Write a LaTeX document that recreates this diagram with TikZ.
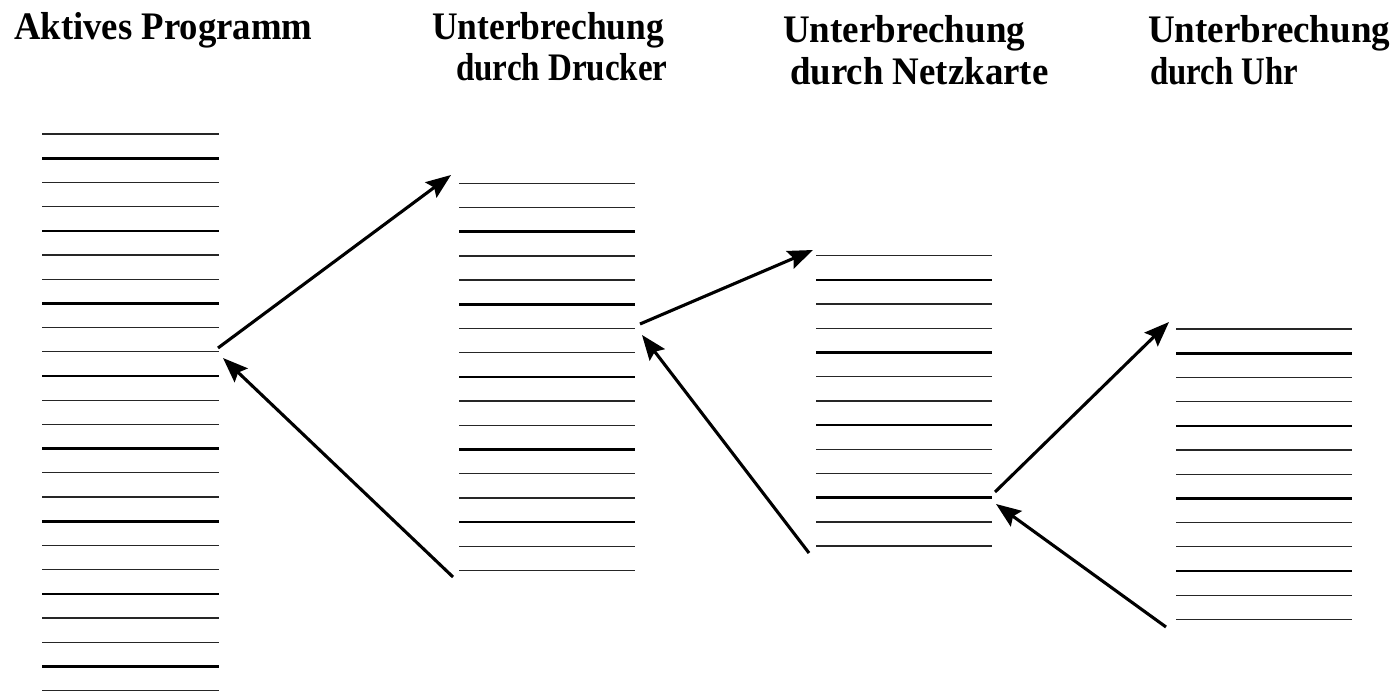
\documentclass[tikz,border=0pt]{standalone}
\usepackage{fontspec}
\usepackage{graphicx}
\setmainfont{Liberation Serif}
\usetikzlibrary{arrows.meta}

\tikzset{
  thinrule/.style={line width=1.3pt, black!85},
  thickrule/.style={line width=2.6pt, black},
  jump/.style={line width=3.1pt, -{Stealth[length=25pt,width=19pt,inset=4pt]}},
  heading/.style={anchor=base west, inner sep=0pt, font=\fontsize{39}{42}\selectfont\bfseries},
}

% heading text squeezed to a given horizontal factor
\newcommand{\squeezed}[2]{\scalebox{#1}[1]{#2}}

% one stack of program lines: left x, right x, first y, count, phase of the thick lines
\newcommand{\codestack}[5]{%
  \foreach \i in {1,...,#4}{%
    \pgfmathtruncatemacro{\r}{mod(\i,3)}%
    \pgfmathsetmacro{\yy}{#3+(\i-1)*24.2}%
    \ifnum\r=#5\relax
      \draw[thickrule] (#1,\yy) -- (#2,\yy);
    \else
      \draw[thinrule] (#1,\yy) -- (#2,\yy);
    \fi
  }%
}

\begin{document}
\begin{tikzpicture}[x=1pt, y=-1pt]
\useasboundingbox (0,0) rectangle (1396,693);

% headings
\node[heading] (hA) at (14,40) {\squeezed{0.942}{Aktives Programm}};
\node[heading] (hB1) at (432,40) {\squeezed{0.909}{Unterbrechung}};
\node[heading] (hB2) at (456,80) {\squeezed{0.847}{durch Drucker}};
\node[heading] (hC1) at (783,43) {\squeezed{0.949}{Unterbrechung}};
\node[heading] (hC2) at (790,84) {\squeezed{0.945}{durch Netzkarte}};
\node[heading] (hD1) at (1148,43) {\squeezed{0.949}{Unterbrechung}};
\node[heading] (hD2) at (1150,84) {\squeezed{0.84}{durch Uhr}};

% program line stacks
\codestack{42}{219}{134}{24}{2}
\codestack{459}{635}{183.3}{17}{0}
\codestack{816}{992}{255.7}{13}{2}
\codestack{1176}{1352}{329}{13}{2}

% jump points
\coordinate (a1) at (218,348);
\coordinate (b1) at (451,175);
\coordinate (b2) at (453,577);
\coordinate (a2) at (223,358);
\coordinate (b3) at (640,324);
\coordinate (c1) at (813,250);
\coordinate (c2) at (809,553);
\coordinate (b4) at (642,335);
\coordinate (c3) at (995,492);
\coordinate (d1) at (1169,322);
\coordinate (d2) at (1166,627);
\coordinate (c4) at (996,504);

% interrupts and returns
\draw[jump] (a1) -- (b1);
\draw[jump] (b2) -- (a2);
\draw[jump] (b3) -- (c1);
\draw[jump] (c2) -- (b4);
\draw[jump] (c3) -- (d1);
\draw[jump] (d2) -- (c4);
\end{tikzpicture}
\end{document}
